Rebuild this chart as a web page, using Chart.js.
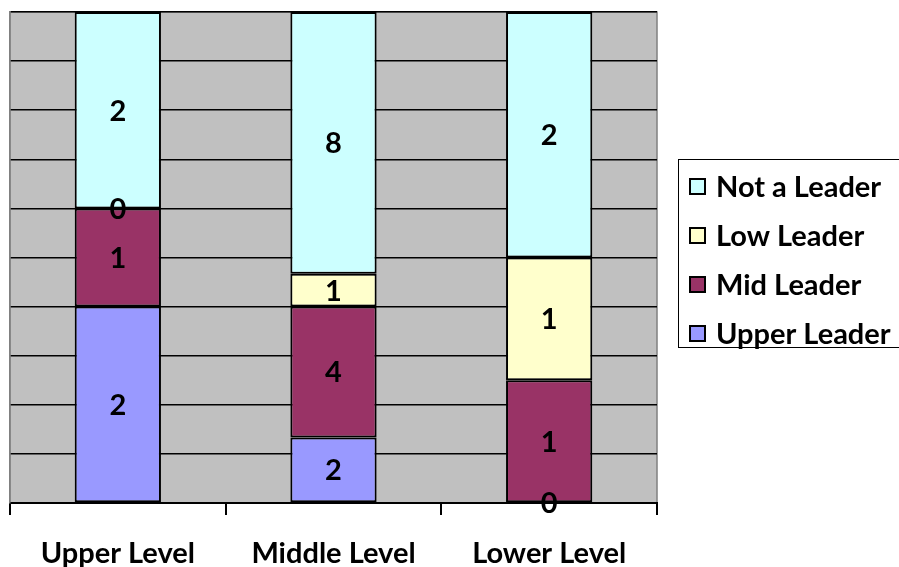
<!DOCTYPE html>
<html>
<head>
<meta charset="utf-8">
<script src="https://cdn.jsdelivr.net/npm/chart.js@4"></script>
<style>
    html, body { margin: 0; padding: 0; background: #ffffff; }
    #wrap { width: 899px; height: 567px; position: relative; }
</style>
</head>
<body>
<div id="wrap"><canvas id="chart"></canvas></div>
<script>
const categories = ['Upper Level', 'Middle Level', 'Lower Level'];

// raw counts per leadership group
const upperLeader = [2, 2, 0];
const midLeader = [1, 4, 1];
const lowLeader = [0, 1, 1];
const notLeader = [2, 8, 2];

const seriesNames = ['Upper Leader', 'Mid Leader', 'Low Leader', 'Not a Leader'];
const seriesColors = ['#9999ff', '#993366', '#ffffcc', '#ccffff'];

const FONT = "Lato, 'Noto Sans', sans-serif";
const FONT_SIZE = 29;

const rawSeries = [upperLeader, midLeader, lowLeader, notLeader];
const totals = categories.map((c, i) => rawSeries.reduce((s, arr) => s + arr[i], 0));

/**
 * 100% stacked: convert counts to share of column total.
 */
function toPercent(arr) {
    return arr.map((v, i) => v / totals[i] * 100);
}

const plotBackground = {
    id: 'plotBackground',
    beforeDraw(chart) {
        const { ctx, chartArea: a } = chart;
        ctx.save();
        ctx.fillStyle = '#c0c0c0';
        ctx.fillRect(a.left, a.top, a.right - a.left, a.bottom - a.top);
        ctx.strokeStyle = '#808080';
        ctx.lineWidth = 1.5;
        ctx.strokeRect(a.left, a.top, a.right - a.left, a.bottom - a.top);
        ctx.restore();
    }
};

// counts written in the middle of each segment
const valueLabels = {
    id: 'valueLabels',
    afterDatasetsDraw(chart) {
        const { ctx } = chart;
        ctx.save();
        ctx.font = 'bold ' + FONT_SIZE + 'px ' + FONT;
        ctx.fillStyle = '#000000';
        ctx.textAlign = 'center';
        ctx.textBaseline = 'middle';
        chart.data.datasets.forEach((ds, di) => {
            chart.getDatasetMeta(di).data.forEach((bar, i) => {
                const p = bar.getProps(['x', 'y', 'base'], true);
                ctx.fillText(String(ds.counts[i]), p.x, (p.y + p.base) / 2 + 1);
            });
        });
        ctx.restore();
    }
};

const boxedLegend = {
    id: 'boxedLegend',
    afterDraw(chart) {
        const { ctx } = chart;
        const left = 678, top = 159, right = 905, bottom = 347;
        ctx.save();
        ctx.strokeStyle = '#000000';
        ctx.lineWidth = 1;
        ctx.strokeRect(left + 0.5, top + 0.5, right - left, bottom - top);
        ctx.font = 'bold ' + FONT_SIZE + 'px ' + FONT;
        ctx.textBaseline = 'middle';
        ctx.textAlign = 'left';
        const n = chart.data.datasets.length;
        for (let k = 0; k < n; k++) {
            const ds = chart.data.datasets[n - 1 - k];
            const cy = 187 + k * 49;
            ctx.fillStyle = ds.backgroundColor;
            ctx.fillRect(690, cy - 8, 15, 15);
            ctx.strokeStyle = '#000000';
            ctx.lineWidth = 2;
            ctx.strokeRect(690, cy - 8, 15, 15);
            ctx.fillStyle = '#000000';
            ctx.fillText(ds.label, 716, cy + 1);
        }
        ctx.restore();
    }
};

new Chart(document.getElementById('chart'), {
    type: 'bar',
    data: {
        labels: categories,
        datasets: rawSeries.map((arr, k) => ({
            label: seriesNames[k],
            data: toPercent(arr),
            counts: arr,
            backgroundColor: seriesColors[k],
            borderColor: '#000000',
            borderWidth: 2,
            borderSkipped: false,
            barPercentage: 0.4,
            categoryPercentage: 1
        }))
    },
    options: {
        responsive: true,
        maintainAspectRatio: false,
        animation: false,
        layout: { padding: { left: 10, top: 12, right: 242, bottom: 0 } },
        plugins: {
            legend: { display: false },
            tooltip: { enabled: false }
        },
        scales: {
            x: {
                stacked: true,
                afterFit(scale) { scale.height = 64; },
                grid: {
                    offset: true,
                    drawOnChartArea: false,
                    drawTicks: true,
                    tickLength: 12,
                    color: '#000000',
                    lineWidth: 2
                },
                border: { color: '#000000', width: 2 },
                ticks: {
                    color: '#000000',
                    padding: 24,
                    maxRotation: 0,
                    font: { family: FONT, size: FONT_SIZE, weight: 'bold', lineHeight: 1 }
                }
            },
            y: {
                stacked: true,
                min: 0,
                max: 100,
                grid: {
                    drawTicks: false,
                    color: '#000000',
                    lineWidth: 1.5
                },
                border: { color: '#808080', width: 1.5 },
                ticks: { display: false, stepSize: 10 }
            }
        }
    },
    plugins: [plotBackground, valueLabels, boxedLegend]
});
</script>
</body>
</html>
